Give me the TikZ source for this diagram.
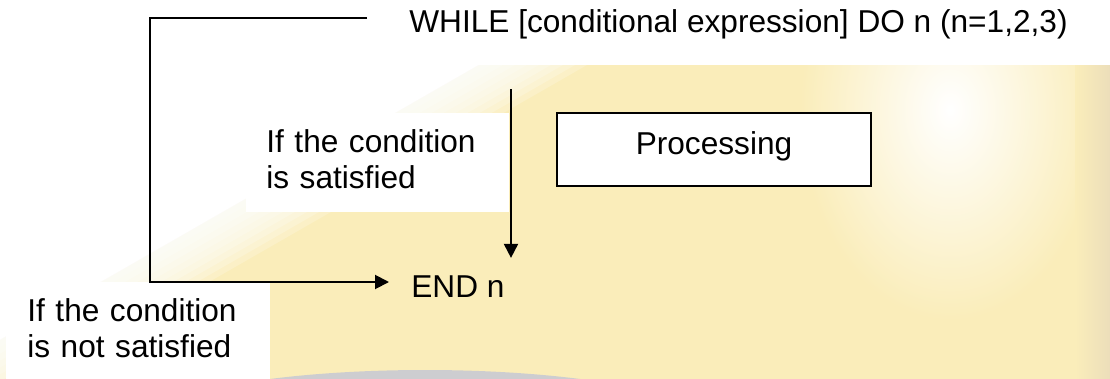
\documentclass[tikz,border=0pt]{standalone}
\usepackage{fontspec}
\setmainfont{Liberation Sans}
\usetikzlibrary{arrows.meta,calc}
\definecolor{bgyellow}{RGB}{250,237,186}
\definecolor{bgtan}{RGB}{236,222,186}
\definecolor{bgblue}{RGB}{198,200,212}

\begin{document}
\begin{tikzpicture}[x=0.02cm,y=-0.02cm,
    font=\fontsize{18}{20.5}\selectfont,
    flow/.style={line width=1.1pt,-{Triangle[length=0.28cm,width=0.28cm]}},
    note/.style={fill=white,align=left,anchor=north west,inner ysep=0pt,
        inner xsep=0.4cm,text width=4.46cm,text height=0.78cm,text depth=1.2cm},
    procbox/.style={draw,line width=1.3pt,fill=white,minimum width=6.28cm,
        inner ysep=0pt,text height=0.82cm,text depth=0.64cm}]
    \useasboundingbox (0,0) rectangle (1110,379);
    \clip (0,0) rectangle (1110,379);

    % backdrop
    \fill[white] (0,0) rectangle (1110,379);
    \fill[bgyellow] (479,65) -- (1110,65) -- (1110,379) -- (-68,379) -- cycle;
    \begin{scope}
        \clip (0,65) rectangle (1110,379);
        \shade[inner color=white,outer color=bgyellow] (950,110) ellipse [x radius=150,y radius=210];
    \end{scope}
    \shade[left color=bgyellow,right color=bgtan] (1075,65) rectangle (1110,379);
    \fill[bgblue,opacity=0.85] (425,428) ellipse [x radius=290,y radius=58];
    \foreach \s in {12,24,...,108}
        \fill[white,opacity=0.2] (-500,65) -- (479+\s,65) -- (\s-453,600) -- (-500,600) -- cycle;

    % labels and boxes
    \node[note] (sat) at (246,113) {If the condition\\is satisfied};
    \node[note,inner xsep=0.42cm,text width=4.44cm,text depth=1.16cm] (notsat) at (6,282)
        {If the condition\\is not satisfied};
    \node[procbox] (proc) at (714,149.5) {Processing};
    \node[anchor=base west,inner sep=0pt] (while) at (409,32) {WHILE [conditional expression] DO n (n=1,2,3)};
    \node[anchor=base west,inner sep=0pt] (endn) at (411,297) {END n};

    % loop connectors
    \coordinate (loopstart) at (367,18);
    \coordinate (loopcorner) at (150,282);
    \coordinate (downstart) at (511,89);
    \draw[flow,shorten >=0.44cm] (loopstart) -| (loopcorner) -- (loopcorner -| endn.west);
    \draw[flow,shorten >=0.34cm] (downstart) -- (downstart |- endn.north);
\end{tikzpicture}
\end{document}
